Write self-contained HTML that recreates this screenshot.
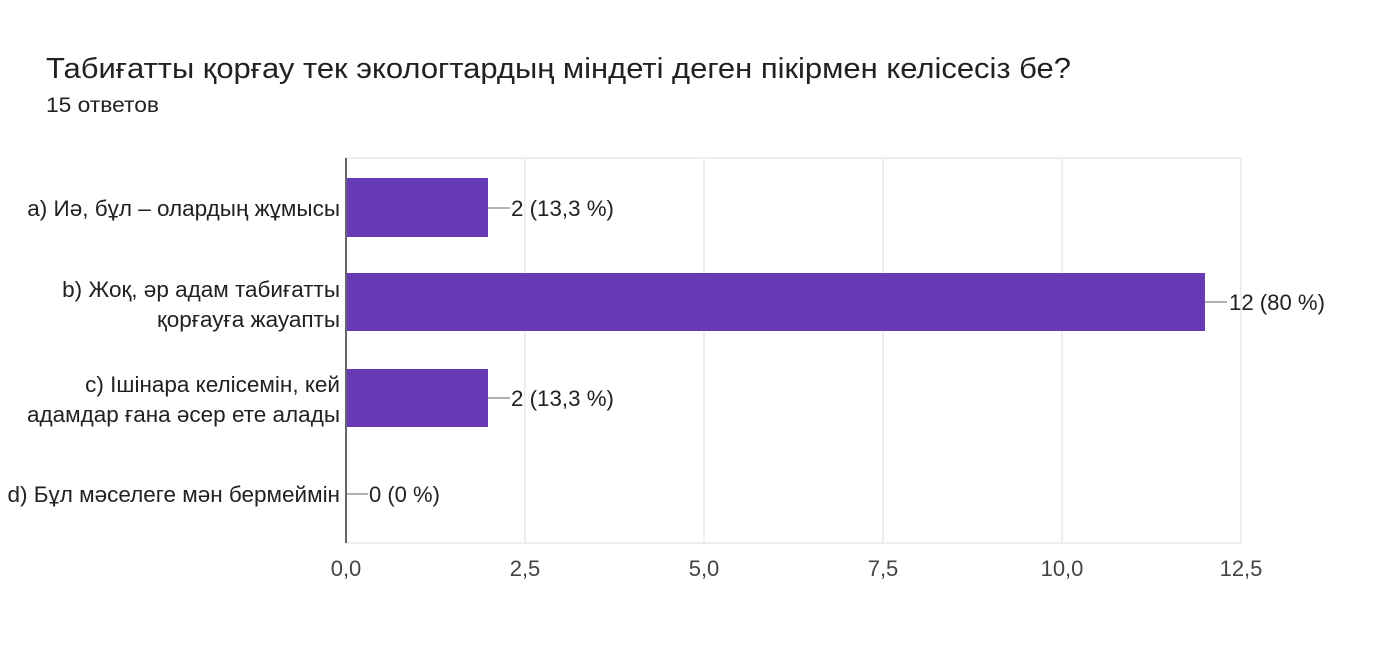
<!DOCTYPE html>
<html><head><meta charset="utf-8"><style>
html,body{margin:0;padding:0;background:#fff;}
svg{display:block;font-family:"Liberation Sans","DejaVu Sans",sans-serif;}
</style></head><body>
<svg width="1380" height="656" viewBox="0 0 1380 656">
<text x="46" y="78" font-size="29" fill="#202124" textLength="1025" lengthAdjust="spacingAndGlyphs">Табиғатты қорғау тек экологтардың міндеті деген пікірмен келісесіз бе?</text>
<text x="46" y="112" font-size="21" fill="#202124" textLength="113" lengthAdjust="spacingAndGlyphs">15 ответов</text>
<g stroke="#e8e8e8" stroke-width="1.5">
<line x1="346" y1="158" x2="1241" y2="158"/>
<line x1="346" y1="543" x2="1241" y2="543"/>
<line x1="525" y1="158" x2="525" y2="543"/>
<line x1="704" y1="158" x2="704" y2="543"/>
<line x1="883" y1="158" x2="883" y2="543"/>
<line x1="1062" y1="158" x2="1062" y2="543"/>
<line x1="1241" y1="158" x2="1241" y2="543"/>
</g>
<rect x="347" y="178" width="141" height="59" fill="#673ab7"/>
<rect x="347" y="273" width="858" height="58" fill="#673ab7"/>
<rect x="347" y="369" width="141" height="58" fill="#673ab7"/>
<line x1="346" y1="158" x2="346" y2="543" stroke="#333" stroke-width="1.5"/>
<g stroke="#999" stroke-width="1.5">
<line x1="488" y1="208" x2="510" y2="208"/>
<line x1="1205" y1="302" x2="1227" y2="302"/>
<line x1="488" y1="398" x2="510" y2="398"/>
<line x1="347" y1="494" x2="368" y2="494"/>
</g>
<g font-size="22" fill="#202124">
<text x="511" y="216" textLength="103" lengthAdjust="spacingAndGlyphs">2 (13,3 %)</text>
<text x="1229" y="310" textLength="96" lengthAdjust="spacingAndGlyphs">12 (80 %)</text>
<text x="511" y="406" textLength="103" lengthAdjust="spacingAndGlyphs">2 (13,3 %)</text>
<text x="369" y="502">0 (0 %)</text>
</g>
<g font-size="22.5" fill="#202124" text-anchor="end">
<text x="340" y="216">а) Иә, бұл – олардың жұмысы</text>
<text x="340" y="297">b) Жоқ, әр адам табиғатты</text>
<text x="340" y="327">қорғауға жауапты</text>
<text x="340" y="392">c) Ішінара келісемін, кей</text>
<text x="340" y="422">адамдар ғана әсер ете алады</text>
<text x="340" y="502">d) Бұл мәселеге мән бермеймін</text>
</g>
<g font-size="22" fill="#444" text-anchor="middle">
<text x="346" y="576">0,0</text>
<text x="525" y="576">2,5</text>
<text x="704" y="576">5,0</text>
<text x="883" y="576">7,5</text>
<text x="1062" y="576">10,0</text>
<text x="1241" y="576">12,5</text>
</g>
</svg>
</body></html>
